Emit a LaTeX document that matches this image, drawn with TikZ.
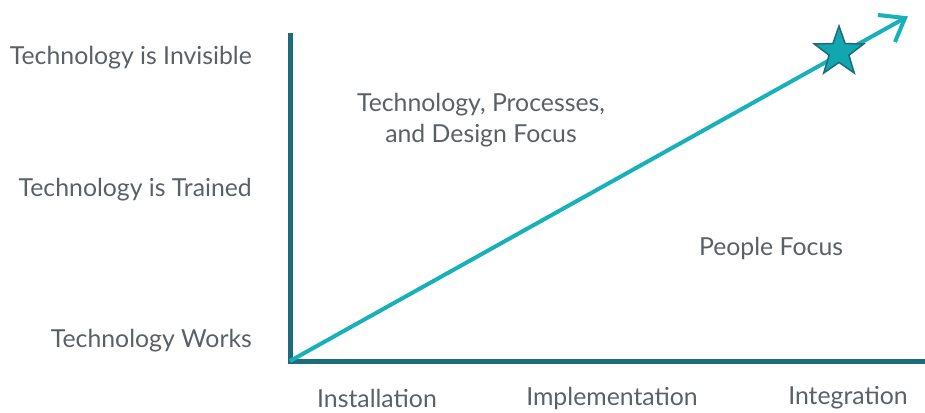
\documentclass[tikz,border=0pt]{standalone}
\usepackage{fontspec}
\setmainfont{Lato}
\usetikzlibrary{shapes.geometric}
\definecolor{axisc}{HTML}{1D6B7B}
\definecolor{linec}{HTML}{18B0B9}
\definecolor{starc}{HTML}{12A6B1}
\definecolor{txtc}{HTML}{5A6166}
\tikzset{
  lbl/.style={text=txtc, font=\fontsize{24.8}{31}\selectfont, inner sep=0pt},
  ylbl/.style={lbl, anchor=east},
  axis/.style={draw=axisc, line width=5pt},
  trend/.style={draw=linec, line width=4pt},
}
\begin{document}
\begin{tikzpicture}[x=1pt,y=-1pt]
\useasboundingbox (0,0) rectangle (925,412);
\coordinate (o) at (290,361);
\coordinate (ytop) at (290,33);
\coordinate (xend) at (925,361);
\coordinate (tip) at (905,18);
\draw[axis] (ytop) -- (o) -- (xend);
\draw[trend] (o) -- (tip);
\draw[trend, line cap=butt] (878,15) -- (tip) -- (895,42);
\node[star, star points=5, star point ratio=2.5, minimum size=52pt, inner sep=0pt, fill=starc, draw=axisc, line width=1.5pt] (st) at (839,52) {};
\node[ylbl] (l1) at (252,58) {Technology is Invisible};
\node[ylbl] (l2) at (252,190) {Technology is Trained};
\node[ylbl] (l3) at (252,341) {Technology Works};
\node[lbl, align=center] (tp) at (481,120) {Technology, Processes,\\and Design Focus};
\node[lbl] (pf) at (771,248) {People Focus};
\node[lbl] (x1) at (377,398) {Installation};
\node[lbl] (x2) at (612,398) {Implementation};
\node[lbl] (x3) at (848,398) {Integration};
\end{tikzpicture}
\end{document}
